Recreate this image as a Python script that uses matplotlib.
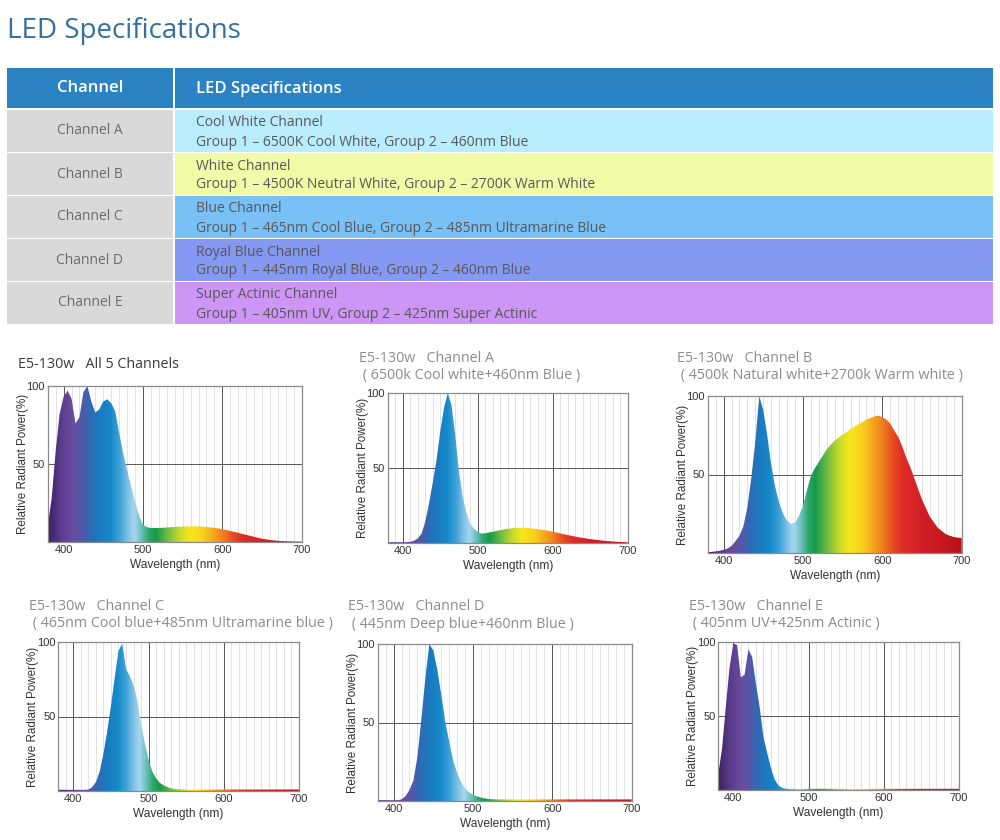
import matplotlib.pyplot as plt
import numpy as np
from matplotlib.colors import LinearSegmentedColormap
from matplotlib.patches import Polygon, Rectangle

# ---- table content ----
channels = ["Channel A", "Channel B", "Channel C", "Channel D", "Channel E"]
spec_names = ["Cool White Channel", "White Channel", "Blue Channel",
              "Royal Blue Channel", "Super Actinic Channel"]
spec_groups = [
    "Group 1 – 6500K Cool White, Group 2 – 460nm Blue",
    "Group 1 – 4500K Neutral White, Group 2 – 2700K Warm White",
    "Group 1 – 465nm Cool Blue, Group 2 – 485nm Ultramarine Blue",
    "Group 1 – 445nm Royal Blue, Group 2 – 460nm Blue",
    "Group 1 – 405nm UV, Group 2 – 425nm Super Actinic",
]
row_colors = ["#b9ecfd", "#f1fba7", "#78c0f5", "#8598f2", "#cd95f5"]

# ---- spectra (relative radiant power %, sampled every 5 nm) ----
wavelength = np.arange(380, 701, 5)
all_channels = [
    10, 28, 58, 82, 93, 97, 92, 76, 80, 96,
    100, 90, 83, 85, 90, 91.5, 89, 84, 70, 57,
    46, 36, 26, 17, 11, 9.5, 9, 9, 9, 9.1,
    9.3, 9.5, 9.7, 9.8, 9.9, 10, 10, 10, 10, 9.8,
    9.6, 9.4, 9.1, 8.7, 8.2, 7.7, 7.1, 6.5, 5.9, 5.2,
    4.6, 4, 3.3, 2.7, 2.1, 1.7, 1.3, 1, 0.8, 0.6,
    0.5, 0.4, 0.3, 0.3, 0.3]
channel_a = [
    0.5, 0.5, 0.5, 0.5, 0.5, 0.6, 0.8, 1.5, 3, 6,
    14, 26, 40, 55, 74, 90, 100, 92, 72, 48,
    31, 20, 13, 9.5, 7.5, 6.3, 6.5, 7, 7.5, 8,
    8.5, 9, 9.5, 9.8, 10, 10.2, 10.2, 10, 9.8, 9.5,
    9.2, 8.9, 8.5, 8, 7.6, 7, 6.4, 5.8, 5.3, 4.8,
    4.3, 3.8, 3.4, 3, 2.6, 2.3, 2, 1.7, 1.4, 1.2,
    1, 0.8, 0.7, 0.6, 0.5]
channel_b = [
    0.5, 0.7, 1, 1.4, 2, 2.8, 4.5, 7.5, 11, 17,
    29, 48, 71, 100, 91, 75, 56, 42, 32, 25,
    20.5, 18.5, 19.5, 23.5, 30, 40, 49, 54, 58, 62,
    66, 69, 71.5, 73.5, 75.5, 77, 79, 80.5, 82, 83.5,
    85, 86, 87, 87.5, 86.5, 85, 82.5, 78, 74, 68,
    61, 55, 48, 41, 34, 28.5, 23, 19.5, 16, 14,
    12, 11, 10.2, 9.8, 9.5]
channel_c = [
    0.8, 0.8, 0.8, 0.8, 0.8, 0.8, 0.8, 0.8, 1, 2.5,
    6, 13, 25, 40, 57, 76, 94, 99, 82, 77,
    71, 61, 45, 32, 21, 13, 8.5, 5.5, 3.8, 2.6,
    1.8, 1.4, 1.2, 1.1, 1, 1, 1, 1, 1, 1,
    1, 1, 1, 1, 1, 1, 1, 1, 1, 1,
    1, 1, 1, 1, 1, 1, 1, 1, 1, 1,
    1, 1, 1, 1, 1]
channel_d = [
    0.5, 0.5, 0.5, 0.5, 0.5, 0.5, 1, 3, 7, 13,
    28, 52, 78, 100, 96, 84, 68, 51, 38, 26,
    18, 12, 8, 5.5, 4, 3, 2.2, 1.6, 1.3, 1.1,
    1, 1, 1, 1, 1, 1, 1, 1, 1, 1,
    1, 1, 1, 1, 1, 1, 1, 1, 1, 1,
    1, 1, 1, 1, 1, 1, 1, 1, 1, 1,
    1, 1, 1, 1, 1]
channel_e = [
    11, 28, 56, 83, 99, 98, 76, 78, 95, 90,
    72, 56, 36, 25, 15, 7, 3, 1.5, 0.9, 0.8,
    0.8, 0.8, 0.8, 0.8, 0.8, 0.8, 0.8, 0.8, 0.8, 0.8,
    0.8, 0.8, 0.8, 0.8, 0.8, 0.8, 0.8, 0.8, 0.8, 0.8,
    0.8, 0.8, 0.8, 0.8, 0.8, 0.8, 0.8, 0.8, 0.8, 0.8,
    0.8, 0.8, 0.8, 0.8, 0.8, 0.8, 0.8, 0.8, 0.8, 0.8,
    0.8, 0.8, 0.8, 0.8, 0.8]

chart_titles = ["E5-130w   All 5 Channels", "E5-130w   Channel A", "E5-130w   Channel B",
                "E5-130w   Channel C", "E5-130w   Channel D", "E5-130w   Channel E"]
chart_subtitles = [None,
                   " ( 6500k Cool white+460nm Blue )",
                   " ( 4500k Natural white+2700k Warm white )",
                   " ( 465nm Cool blue+485nm Ultramarine blue )",
                   " ( 445nm Deep blue+460nm Blue )",
                   " ( 405nm UV+425nm Actinic )"]

# colour of the light at each wavelength
spectrum_stops = [
    (380, "#3b2262"), (395, "#5a3a8b"), (410, "#6a4b9f"), (422, "#5457a8"),
    (432, "#2f6ab3"), (445, "#1a7bbf"), (458, "#1689c9"), (470, "#3ea2d9"),
    (480, "#7fc0e6"), (488, "#a8d6ef"), (497, "#6cc0c0"), (506, "#2ea86a"),
    (515, "#15994a"), (530, "#6fba44"), (545, "#c6d92c"), (558, "#f6e61c"),
    (575, "#f8d11c"), (590, "#f5a020"), (602, "#ef7a1f"), (612, "#e8501f"),
    (625, "#df2d27"), (650, "#d21f27"), (700, "#b8111a")]
spec_cmap = LinearSegmentedColormap.from_list(
    "spectrum", [((w - 380) / 320, c) for w, c in spectrum_stops])

W, H = 1000, 840
fig = plt.figure(figsize=(W / 100, H / 100), dpi=100)
fig.patch.set_facecolor("white")

bg = fig.add_axes([0, 0, 1, 1])
bg.set_xlim(0, W)
bg.set_ylim(H, 0)
bg.axis("off")

table_font = "Open Sans"
bg.text(7, 31, "LED Specifications", fontsize=20, color="#35709f",
        va="center", family=table_font)

# header
bg.add_patch(Rectangle((7, 68), 166, 40, color="#2c83c3", lw=0))
bg.add_patch(Rectangle((175, 68), 818, 40, color="#2c83c3", lw=0))
bg.text(90, 88, "Channel", fontsize=12, color="white", ha="center", va="center",
        family=table_font, weight="semibold")
bg.text(196, 89, "LED Specifications", fontsize=12, color="white", va="center",
        family=table_font, weight="semibold")

for i in range(len(channels)):
    top = 110 + 43 * i
    bg.add_patch(Rectangle((7, top), 166, 41.5, color="#d9d9d9", lw=0))
    bg.add_patch(Rectangle((175, top), 818, 41.5, color=row_colors[i], lw=0))
    bg.text(90, top + 21, channels[i], fontsize=10, color="#6b6b6b",
            ha="center", va="center", family=table_font)
    bg.text(196, top + 13, spec_names[i], fontsize=10, color="#585858",
            va="center", family=table_font)
    bg.text(196, top + 32, spec_groups[i], fontsize=10, color="#585858",
            va="center", family=table_font)

# chart placement in pixels: left, top, right, bottom
chart_boxes = [(47.7, 386, 301.7, 542), (387.7, 393, 627.7, 543),
               (707.7, 396, 961.7, 553), (58.3, 642, 299, 791),
               (377.7, 644, 631.7, 801), (718.3, 642, 959, 790)]
title_pos = [(18, 365), (359, 358), (677, 359), (29, 606), (348, 607), (689, 606)]
series = [all_channels, channel_a, channel_b, channel_c, channel_d, channel_e]

label_font = "Liberation Sans"
for k, values in enumerate(series):
    l, t, r, b = chart_boxes[k]
    wpx, hpx = r - l, b - t
    ax = fig.add_axes([l / W, 1 - b / H, wpx / W, hpx / H])
    ax.set_xlim(380, 700)
    ax.set_ylim(0, 100)

    grad = np.linspace(380, 700, 641).reshape(1, -1)
    im = ax.imshow(grad, extent=(380, 700, 0, 100), aspect="auto", cmap=spec_cmap,
                   vmin=380, vmax=700, origin="lower", zorder=2,
                   interpolation="bilinear")
    verts = [(380, 0)] + list(zip(wavelength, values)) + [(700, 0)]
    clip = Polygon(verts, closed=True, facecolor="none", edgecolor="none")
    ax.add_patch(clip)
    im.set_clip_path(clip)

    ax.set_xticks([400, 500, 600, 700])
    ax.set_xticks(np.arange(380, 701, 10), minor=True)
    ax.set_yticks([50, 100])
    ax.set_axisbelow(True)
    ax.grid(which="major", color="#555555", lw=0.7)
    ax.grid(which="minor", axis="x", color="#d6d6d6", lw=0.5)
    ax.tick_params(which="both", length=0, labelsize=8, labelcolor="#333333", pad=2)
    for lab in ax.get_xticklabels() + ax.get_yticklabels():
        lab.set_family(label_font)
    for sp in ax.spines.values():
        sp.set_color("#8a8a8a")
        sp.set_linewidth(0.9)

    ax.set_xlabel("Wavelength (nm)", fontsize=8.6, color="#333333", family=label_font)
    ax.set_ylabel("Relative Radiant Power(%)", fontsize=8.4, color="#333333",
                  family=label_font)
    ax.xaxis.set_label_coords(0.5, -23 / hpx)
    ax.yaxis.set_label_coords(-25 / wpx, 0.5)
    ax.xaxis.label.set_va("center")
    ax.yaxis.label.set_va("center")

    tx, ty = title_pos[k]
    color = "#3a3a3a" if k == 0 else "#8c8c8c"
    bg.text(tx, ty, chart_titles[k], fontsize=10.3, color=color, va="center",
            family=table_font)
    if chart_subtitles[k]:
        bg.text(tx, ty + 17, chart_subtitles[k], fontsize=10.3, color=color,
                va="center", family=table_font)

fig.savefig("out.png", dpi=100)
